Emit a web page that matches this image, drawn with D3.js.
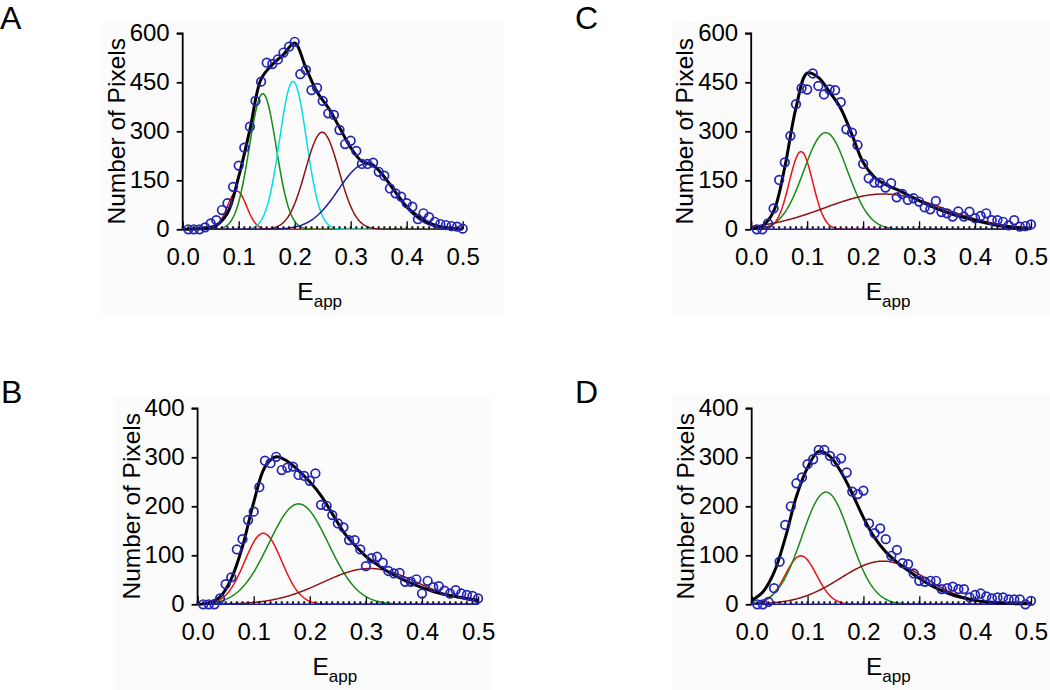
<!DOCTYPE html>
<html>
<head>
<meta charset="utf-8">
<script src="https://cdn.jsdelivr.net/npm/d3@7"></script>
<style>
  html, body { margin: 0; padding: 0; background: #ffffff; }
  svg { display: block; font-family: "Liberation Sans", Arial, sans-serif; }
</style>
</head>
<body>
<svg id="chart" width="1050" height="690"></svg>
<script>
// ---------------- data ----------------
// E_app bin centres of the histogram
const binE = [0.01,0.02,0.03,0.04,0.05,0.06,0.07,0.08,0.09,0.10,
              0.11,0.12,0.13,0.14,0.15,0.16,0.17,0.18,0.19,0.20,
              0.21,0.22,0.23,0.24,0.25,0.26,0.27,0.28,0.29,0.30,
              0.31,0.32,0.33,0.34,0.35,0.36,0.37,0.38,0.39,0.40,
              0.41,0.42,0.43,0.44,0.45,0.46,0.47,0.48,0.49,0.50];

// Number of pixels per bin (open circles)
const countsA = [0,0,0,6,18,28,59,80,130,195,250,314,393,452,510,506,520,541,559,574,
                 475,488,426,433,393,355,350,304,261,271,240,200,200,204,176,164,125,110,100,80,
                 69,31,49,37,23,16,13,10,8,2];
const countsB = [0,0,0,12,41,55,112,133,172,189,239,293,288,301,274,279,281,264,262,252,
                 267,203,201,182,165,157,131,131,112,78,94,97,85,68,63,64,46,46,51,22,
                 48,35,37,28,22,29,22,19,17,12];
const countsC = [0,0,18,64,151,205,286,383,432,428,477,439,413,428,426,389,306,296,258,200,
                 156,143,143,128,141,98,108,90,95,85,67,61,87,53,49,39,55,39,54,34,
                 41,49,28,28,23,12,28,8,10,15];
const countsD = [0,0,5,33,87,162,200,247,259,286,296,315,315,303,291,298,269,230,225,232,
                 165,145,155,133,99,111,84,82,63,48,46,48,48,31,33,36,31,31,14,19,
                 22,16,12,14,14,10,10,10,0,7];

// Overall fit (thick black line), read at these E_app positions
const fitE = [0.00,0.02,0.04,0.06,0.08,0.10,0.12,0.14,0.16,0.18,0.20,0.22,0.24,
              0.26,0.28,0.30,0.32,0.34,0.36,0.38,0.40,0.42,0.44,0.46,0.48,0.50];
const fitA = [0,1,3,12,50,161,305,460,504,535,570,494,420,372,312,250,208,197,160,114,69,40,20,8,3,0];
const fitB = [0,3,15,52,118,208,280,301,292,273,250,222,185,148,121,98,81,66,54,43,34,26,20,16,12,9];
const fitC = [2,10,55,190,372,478,465,420,370,290,205,160,137,122,105,88,72,58,46,36,27,19,12,7,4,2];
const fitD = [8,25,65,135,220,279,312,302,270,226,177,136,107,86,69,53,39,28,19,13,8,5,3,2,1,1];

// Fitted Gaussian components: peak position, peak height, standard deviation
// Panel A components: red, green, cyan, dark red, blue
const peakPosA    = [0.097, 0.143, 0.197, 0.249, 0.327];
const peakHeightA = [117, 415, 453, 297, 200];
const peakSigmaA  = [0.017, 0.024, 0.024, 0.030, 0.049];
// Panels B, C, D components: red, green, dark red, blue (zero)
const peakPosB    = [0.117, 0.180, 0.307, 0.25];
const peakHeightB = [145, 205, 73, 0];
const peakSigmaB  = [0.033, 0.053, 0.085, 0.1];
const peakPosC    = [0.089, 0.133, 0.236, 0.25];
const peakHeightC = [238, 296, 108, 0];
const peakSigmaC  = [0.021, 0.039, 0.105, 0.1];
const peakPosD    = [0.088, 0.133, 0.235, 0.25];
const peakHeightD = [99, 229, 88, 0];
const peakSigmaD  = [0.028, 0.043, 0.076, 0.1];

// Tick labels
const xTicks = [0.0, 0.1, 0.2, 0.3, 0.4, 0.5];
const yTicks600 = [0, 150, 300, 450, 600];
const yTicks400 = [0, 100, 200, 300, 400];
const panelLetters = ["A", "B", "C", "D"];
const yTitle = "Number of Pixels";

// ---------------- drawing ----------------
const colorsFive = ["#ee1111", "#168c16", "#00e0e6", "#8e1212", "#1c1ca8"];
const colorsFour = ["#ee1111", "#168c16", "#8e1212", "#1c1ca8"];

const panels = [
  { letter: panelLetters[0], counts: countsA, fit: fitA, pos: peakPosA, h: peakHeightA, s: peakSigmaA,
    colors: colorsFive, yMax: 600, yTicks: yTicks600,
    x0: 182.7, x1: 462.7, yTop: 33.3, yBot: 229.3,
    bg: [100, 22, 403, 293], letterXY: [0, 29] },
  { letter: panelLetters[1], counts: countsB, fit: fitB, pos: peakPosB, h: peakHeightB, s: peakSigmaB,
    colors: colorsFour, yMax: 400, yTicks: yTicks400,
    x0: 197.6, x1: 478.1, yTop: 408.3, yBot: 604.3,
    bg: [115, 396, 376, 294], letterXY: [1, 403] },
  { letter: panelLetters[2], counts: countsC, fit: fitC, pos: peakPosC, h: peakHeightC, s: peakSigmaC,
    colors: colorsFour, yMax: 600, yTicks: yTicks600,
    x0: 751.2, x1: 1031.0, yTop: 33.3, yBot: 229.3,
    bg: [672, 22, 378, 293], letterXY: [575, 29] },
  { letter: panelLetters[3], counts: countsD, fit: fitD, pos: peakPosD, h: peakHeightD, s: peakSigmaD,
    colors: colorsFour, yMax: 400, yTicks: yTicks400,
    x0: 751.7, x1: 1031.0, yTop: 408.3, yBot: 604.3,
    bg: [672, 394, 378, 296], letterXY: [575, 403] }
];

const svg = d3.select("#chart");
const fontFam = '"Liberation Sans", Arial, sans-serif';

function gauss(e, c, h, s) { return h * Math.exp(-((e - c) * (e - c)) / (2 * s * s)); }

panels.forEach(p => {
  const x = d3.scaleLinear().domain([0, 0.5]).range([p.x0, p.x1]);
  const y = d3.scaleLinear().domain([0, p.yMax]).range([p.yBot, p.yTop]);

  // faint plot background
  svg.append("rect")
    .attr("x", p.bg[0]).attr("y", p.bg[1]).attr("width", p.bg[2]).attr("height", p.bg[3])
    .attr("fill", "#fbfbfb");

  // panel letter
  svg.append("text")
    .attr("x", p.letterXY[0]).attr("y", p.letterXY[1])
    .attr("font-size", 32).attr("font-family", fontFam).attr("fill", "#000")
    .text(p.letter);

  const g = svg.append("g");

  // y axis
  const yAxis = d3.axisLeft(y).tickValues(p.yTicks).tickSize(6).tickPadding(7)
    .tickFormat(d3.format("d"));
  const ya = g.append("g").attr("transform", `translate(${p.x0},0)`).call(yAxis);
  ya.select(".domain").attr("stroke", "#000").attr("stroke-width", 1.8)
    .attr("d", `M-6,${p.yTop}H0V${p.yBot}`);
  ya.selectAll(".tick line").attr("stroke", "#000").attr("stroke-width", 1.8);
  ya.selectAll(".tick text").attr("font-size", 24).attr("font-family", fontFam).attr("fill", "#000");

  // x axis (labels, ticks pointing up, no domain line)
  const xAxis = d3.axisBottom(x).tickValues(xTicks).tickSizeInner(-8).tickSizeOuter(0)
    .tickPadding(19).tickFormat(d3.format(".1f"));
  const xa = g.append("g").attr("transform", `translate(0,${p.yBot})`).call(xAxis);
  xa.select(".domain").remove();
  xa.selectAll(".tick line").attr("stroke", "#000").attr("stroke-width", 1.3);
  xa.selectAll(".tick text").attr("font-size", 24).attr("font-family", fontFam).attr("fill", "#000");

  // y title
  g.append("text")
    .attr("transform", `translate(${p.x0 - 58},${(p.yTop + p.yBot) / 2}) rotate(-90)`)
    .attr("text-anchor", "middle")
    .attr("font-size", 24.5).attr("font-family", fontFam).attr("fill", "#000")
    .text(yTitle);

  // x title E_app
  const xt = g.append("text")
    .attr("x", (p.x0 + p.x1) / 2 - 3).attr("y", p.yBot + 71)
    .attr("text-anchor", "middle")
    .attr("font-size", 24.5).attr("font-family", fontFam).attr("fill", "#000");
  xt.append("tspan").text("E");
  xt.append("tspan").attr("font-size", 17).attr("dy", 7).text("app");

  // Gaussian components
  const eSamples = d3.range(0, 0.50001, 0.002);
  const compLine = d3.line().x(d => x(d[0])).y(d => y(d[1]));
  p.pos.forEach((c, i) => {
    const pts = eSamples.map(e => [e, gauss(e, c, p.h[i], p.s[i])]);
    g.append("path").attr("d", compLine(pts))
      .attr("fill", "none").attr("stroke", p.colors[i]).attr("stroke-width", 1.5);
  });

  // minor dotted ticks along the baseline
  const minor = d3.range(0, 0.5001, 0.01);
  g.selectAll(null).data(minor).enter().append("rect")
    .attr("x", d => x(d) - 1).attr("y", p.yBot - 3).attr("width", 2).attr("height", 2.5)
    .attr("fill", "#111");

  // overall fit
  const fitLine = d3.line().curve(d3.curveCatmullRom.alpha(0.5))
    .x((d, i) => x(fitE[i])).y(d => y(Math.max(0, d)));
  g.append("path").attr("d", fitLine(p.fit))
    .attr("fill", "none").attr("stroke", "#000").attr("stroke-width", 3)
    .attr("stroke-linejoin", "round");

  // data circles
  g.selectAll(null).data(p.counts).enter().append("circle")
    .attr("cx", (d, i) => x(binE[i])).attr("cy", d => y(d)).attr("r", 4.3)
    .attr("fill", "none").attr("stroke", "#2323b4").attr("stroke-width", 1.7);
});
</script>
</body>
</html>
